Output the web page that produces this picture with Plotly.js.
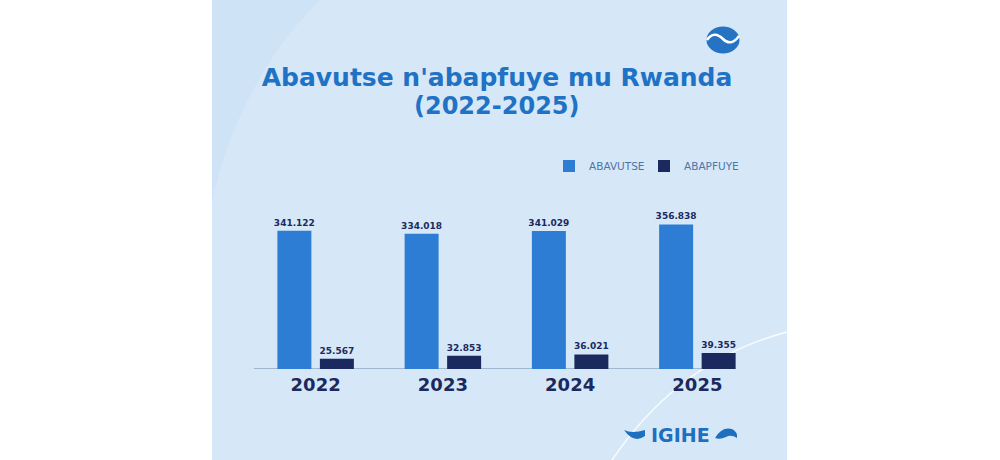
<!DOCTYPE html>
<html>
<head>
<meta charset="utf-8">
<script src="https://cdn.plot.ly/plotly-3.0.1.min.js"></script>
<style>html,body{margin:0;padding:0;background:#fff;}#chart{width:1000px;height:460px;}</style>
</head>
<body>
<div id="chart"></div>
<script>
// ---- data ----
const years = ['2022', '2023', '2024', '2025'];
const births = [341122, 334018, 341029, 356838];   // ABAVUTSE
const deaths = [25567, 32853, 36021, 39355];       // ABAPFUYE
const seriesNames = ['ABAVUTSE', 'ABAPFUYE'];
const titleLine1 = "Abavutse n'abapfuye mu Rwanda";
const titleLine2 = '(2022-2025)';
const brandText = 'IGIHE';

// ---- layout helpers (pixel -> paper) ----
const L = 252, R = 239, T = 207, B = 91, W = 1000 - L - R, H = 460 - T - B;
const px = x => (x - L) / W;
const py = y => (460 - B - y) / H;
function pth(pts) {
  return pts.map(seg => {
    const c = seg[0]; const nums = seg.slice(1);
    const out = [];
    for (let i = 0; i < nums.length; i += 2) out.push(px(nums[i]).toFixed(5) + ',' + py(nums[i + 1]).toFixed(5));
    return c + out.join(' ');
  }).join(' ');
}

const navy = '#1b2a5e';
const blue = '#2e7dd4';
const titleBlue = '#1f72c4';
const font = 'DejaVu Sans';

const traces = [
  {
    type: 'bar', name: seriesNames[0], x: years, y: births,
    marker: { color: blue },
    texttemplate: '%{y:,}', textposition: 'outside', cliponaxis: false,
    constraintext: 'none',
    textfont: { family: font, size: 9, color: navy, weight: 'bold' },
    outsidetextfont: { family: font, size: 9, color: navy, weight: 'bold' },
    hoverinfo: 'skip'
  },
  {
    type: 'bar', name: seriesNames[1], x: years, y: deaths,
    marker: { color: navy },
    texttemplate: '%{y:,}', textposition: 'outside', cliponaxis: false,
    constraintext: 'none',
    textfont: { family: font, size: 9, color: navy, weight: 'bold' },
    outsidetextfont: { family: font, size: 9, color: navy, weight: 'bold' },
    hoverinfo: 'skip'
  }
];

const shapes = [
  // background panel
  { type: 'rect', xref: 'paper', yref: 'paper', x0: px(212), x1: px(787), y0: py(460), y1: py(0),
    fillcolor: '#d6e8f8', line: { width: 0 }, layer: 'below' },
  // subtle darker top-left wash
  { type: 'path', xref: 'paper', yref: 'paper', layer: 'below', line: { width: 0 },
    fillcolor: 'rgba(190,216,242,0.3)',
    path: pth([['M', 212, 0], ['L', 320, 0], ['Q', 240, 80, 212, 200], ['Z']]) },
  // decorative arc lower right
  { type: 'path', xref: 'paper', yref: 'paper', layer: 'below',
    line: { color: 'rgba(255,255,255,0.85)', width: 1.5 },
    path: pth([['M', 612, 460], ['Q', 680, 360, 787, 332]]) },
  // axis base line
  { type: 'line', xref: 'x', yref: 'y', x0: -0.485, x1: 3.3, y0: 0, y1: 0,
    line: { color: '#6d87a6', width: 1 }, layer: 'below' },
  // top-right logo
  { type: 'circle', xref: 'paper', yref: 'paper', x0: px(706.5), x1: px(739.5), y0: py(53.5), y1: py(26.5),
    fillcolor: '#2673c3', line: { width: 0 }, layer: 'above' },
  { type: 'path', xref: 'paper', yref: 'paper', layer: 'above', line: { color: '#ffffff', width: 2.5 },
    path: pth([['M', 707, 40], ['Q', 714, 30, 723, 39], ['Q', 731, 47, 739, 36]]) },
  // brand waves
  { type: 'path', xref: 'paper', yref: 'paper', layer: 'above', line: { width: 0 }, fillcolor: '#1f6fc0',
    path: pth([['M', 624, 430], ['Q', 632, 434, 645, 430], ['L', 645, 436], ['Q', 634, 444, 624, 430], ['Z']]) },
  { type: 'path', xref: 'paper', yref: 'paper', layer: 'above', line: { width: 0 }, fillcolor: '#1f6fc0',
    path: pth([['M', 715, 438], ['Q', 722, 426, 732, 429], ['Q', 738, 432, 737, 438], ['Q', 731, 434, 726, 437], ['Q', 720, 440, 715, 438], ['Z']]) }
];

const annotations = [
  { xref: 'paper', yref: 'paper', x: px(497), y: py(106), xanchor: 'center', yanchor: 'middle',
    text: titleLine2, showarrow: false,
    font: { family: font, size: 24, color: titleBlue, weight: 'bold' } },
  { xref: 'paper', yref: 'paper', x: px(680), y: py(435), xanchor: 'center', yanchor: 'middle',
    text: brandText, showarrow: false,
    font: { family: font, size: 19, color: '#1f6fc0', weight: 'bold' } }
];

const layout = {
  width: 1000, height: 460,
  margin: { l: L, r: R, t: T, b: B, pad: 0 },
  paper_bgcolor: '#ffffff', plot_bgcolor: 'rgba(0,0,0,0)',
  separators: ',.',
  title: { text: titleLine1, x: 0.497, xanchor: 'center', y: 1 - 77 / 460, yanchor: 'middle',
    font: { family: font, size: 25, color: titleBlue, weight: 'bold' } },
  barmode: 'group', bargap: 0.332, bargroupgap: 0.2,
  xaxis: { type: 'category', range: [-0.5, 3.5], showgrid: false, zeroline: false, showline: false,
    ticks: '', ticklabelstandoff: 3, tickfont: { family: font, size: 18, color: navy, weight: 'bold' }, fixedrange: true },
  yaxis: { range: [0, 400000], visible: false, fixedrange: true },
  showlegend: true,
  legend: { orientation: 'h', x: px(549), xanchor: 'left', y: py(166), yanchor: 'middle',
    bgcolor: 'rgba(0,0,0,0)', entrywidth: 50, entrywidthmode: 'pixels', itemwidth: 30,
    font: { family: font, size: 10.5, color: '#4f74a6' }, traceorder: 'normal' },
  shapes: shapes,
  annotations: annotations
};

Plotly.newPlot('chart', traces, layout, { displayModeBar: false, staticPlot: true });
</script>
</body>
</html>
